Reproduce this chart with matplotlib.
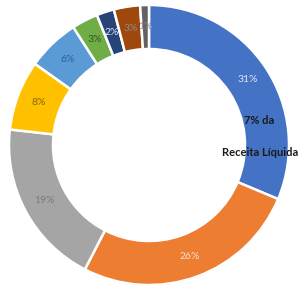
import matplotlib
matplotlib.use("Agg")
import matplotlib.pyplot as plt

values = [31, 26, 19, 8, 6, 3, 2, 3, 1]
labels = ["31%", "26%", "19%", "8%", "6%", "3%", "2%", "3%", "1%"]
colors = ["#4472C4", "#ED7D31", "#A5A5A5", "#FFC000", "#5B9BD5",
          "#70AD47", "#264478", "#9E480E", "#636363"]
label_colors = ["#DCE4F5", "#FBE0CC", "#7A7A7A", "#8A6A00", "#2E5E96",
                "#2F5A1C", "#DCE4F5", "#8C8C8C", "#8C8C8C"]
note_lines = ["7% da", "Receita Líquida"]

fig = plt.figure(figsize=(3.04, 2.91), dpi=100)
ax = fig.add_axes([0, 0, 1, 1])

wedges, texts = ax.pie(values, colors=colors, labels=labels, startangle=90,
                       counterclock=False, center=(149, 146), radius=140,
                       labeldistance=0.845, frame=True,
                       wedgeprops=dict(width=44, edgecolor="white", linewidth=1.8),
                       textprops=dict(fontsize=7.5, family="Lato", ha="center", va="center"))
for t, c in zip(texts, label_colors):
    t.set_color(c)
    t.set_ha("center")
ax.set_xlim(0, 304)
ax.set_ylim(0, 291)
ax.set_aspect("equal")
ax.axis("off")

ax.text(259, 171, note_lines[0], fontsize=8, family="Lato", fontweight="bold",
        color="#1a1a1a", ha="center", va="center")
ax.text(260, 139, note_lines[1], fontsize=8, family="Lato", fontweight="bold",
        color="#1a1a1a", ha="center", va="center")

fig.savefig("out.png", dpi=100)
